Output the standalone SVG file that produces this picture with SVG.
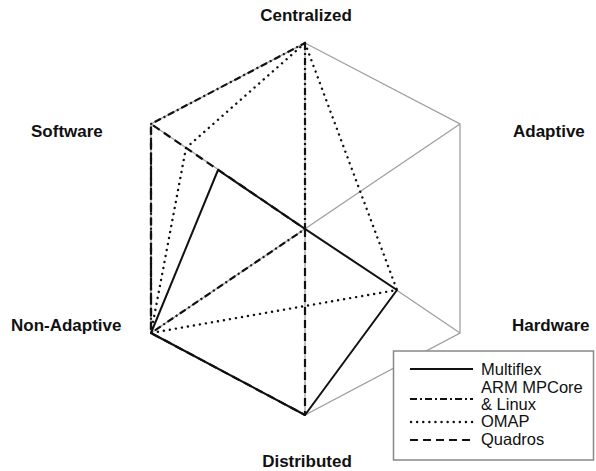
<svg xmlns="http://www.w3.org/2000/svg" width="596" height="471" viewBox="0 0 596 471">
  <style>
    .axis-label { font-family: "Liberation Sans", Arial, sans-serif; font-size: 17px; font-weight: bold; fill: #111; }
    .legend-text { font-family: "Liberation Sans", Arial, sans-serif; font-size: 16.5px; fill: #111; }
    .grid { fill: none; stroke: #a0a0a0; stroke-width: 1.3; }
    .series { fill: none; stroke: #111; stroke-width: 2; stroke-linejoin: round; }
    .multiflex { }
    .arm { stroke-dasharray: 7 3 2 3; stroke-width: 2.2; }
    .omap { stroke-dasharray: 0.1 6; stroke-linecap: round; stroke-width: 2.4; }
    .quadros { stroke-dasharray: 8 5; stroke-width: 2.2; }
  </style>
  <rect width="596" height="471" fill="#fff"/>

  <!-- hexagonal grid: outline and the three axes through the centre -->
  <g id="grid" class="grid">
    <polygon points="305,43 460,124 460,333 305,415 151,333 151,124"/>
    <line x1="305" y1="43" x2="305" y2="415"/>
    <line x1="151" y1="124" x2="460" y2="333"/>
    <line x1="460" y1="124" x2="151" y2="333"/>
  </g>

  <!-- axis end labels -->
  <g id="centralized"><text class="axis-label" x="306" y="21" text-anchor="middle">Centralized</text></g>
  <g id="software"><text class="axis-label" x="31" y="137">Software</text></g>
  <g id="adaptive"><text class="axis-label" x="513" y="137">Adaptive</text></g>
  <g id="non-adaptive"><text class="axis-label" x="11" y="331">Non-Adaptive</text></g>
  <g id="hardware"><text class="axis-label" x="512" y="331">Hardware</text></g>
  <g id="distributed"><text class="axis-label" x="307" y="467" text-anchor="middle">Distributed</text></g>

  <!-- data series -->
  <g id="connectors">
    <polygon class="series multiflex" points="305,229 397,290 305,415 151,333 218,170"/>
    <polygon class="series arm" points="305,43 305,229 151,333 151,124"/>
    <polygon class="series omap" points="305,43 360,191 397,290 305,306 151,333 186,148"/>
    <polygon class="series quadros" points="305,229 305,415 151,333 151,124"/>
  </g>

  <!-- legend -->
  <g id="legend">
    <rect x="393.5" y="351" width="200" height="109" fill="#fff" stroke="#888" stroke-width="1.5"/>
    <line class="series multiflex" x1="410" y1="369" x2="473" y2="369"/>
    <text class="legend-text" x="481" y="375">Multiflex</text>
    <line class="series arm" x1="410" y1="399" x2="473" y2="399"/>
    <text class="legend-text" x="481" y="393">ARM MPCore</text>
    <text class="legend-text" x="481" y="410">&amp; Linux</text>
    <line class="series omap" x1="411" y1="422" x2="473" y2="422"/>
    <text class="legend-text" x="481" y="427">OMAP</text>
    <line class="series quadros" x1="410" y1="440" x2="473" y2="440"/>
    <text class="legend-text" x="481" y="445">Quadros</text>
  </g>
</svg>
